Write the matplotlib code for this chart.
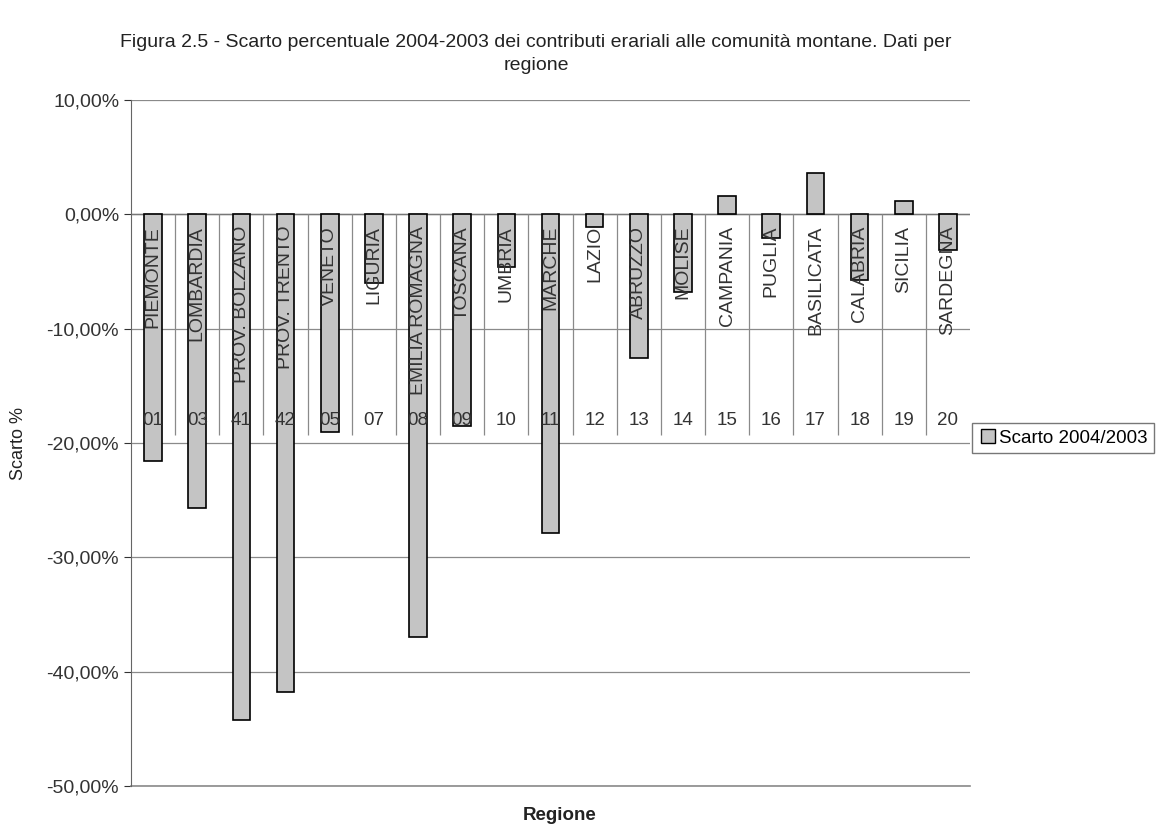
import matplotlib.pyplot as plt
from matplotlib.ticker import FuncFormatter
from matplotlib.lines import Line2D

plt.rcParams['font.family'] = ['Liberation Sans', 'DejaVu Sans']

# === DATA ===
regioni = ["PIEMONTE", "LOMBARDIA", "PROV. BOLZANO", "PROV. TRENTO", "VENETO",
           "LIGURIA", "EMILIA ROMAGNA", "TOSCANA", "UMBRIA", "MARCHE", "LAZIO",
           "ABRUZZO", "MOLISE", "CAMPANIA", "PUGLIA", "BASILICATA", "CALABRIA",
           "SICILIA", "SARDEGNA"]
codici = ["01", "03", "41", "42", "05", "07", "08", "09", "10", "11", "12",
          "13", "14", "15", "16", "17", "18", "19", "20"]
scarto = [-21.6, -25.7, -44.2, -41.8, -19.0, -6.0, -37.0, -18.5, -4.6, -27.9,
          -1.1, -12.6, -6.8, 1.6, -2.1, 3.6, -5.7, 1.2, -3.1]

TITLE = ("Figura 2.5 - Scarto percentuale 2004-2003 dei contributi erariali alle comunità montane. Dati per\n"
         "regione")

# === Plot ===
fig = plt.figure(figsize=(11.6, 8.32), dpi=100)
ax = fig.add_axes([131 / 1160, 1 - 786 / 832, (970 - 131) / 1160, (786 - 100) / 832])

x = list(range(len(regioni)))
ax.bar(x, scarto, width=0.4, color="#c4c4c4", edgecolor="black", linewidth=1.2,
       zorder=3, label="Scarto 2004/2003")

ax.set_xlim(-0.5, len(regioni) - 0.5)
ax.set_ylim(-50, 10)
ax.set_yticks([10, 0, -10, -20, -30, -40, -50])
ax.yaxis.set_major_formatter(FuncFormatter(lambda v, p: f"{v:.2f}%".replace(".", ",")))
ax.tick_params(axis="y", labelsize=14, colors="#333333", length=5, width=0.8)
ax.set_xticks([])
ax.grid(axis="y", color="#8a8a8a", linewidth=0.9, zorder=0)
ax.axhline(0, color="#777777", linewidth=1.0, zorder=2)
ax.axhline(-50, color="#8a8a8a", linewidth=1.2, zorder=2, clip_on=False)

for s in ["top", "right", "bottom"]:
    ax.spines[s].set_visible(False)
ax.spines["left"].set_color("#666666")

# category table at the zero line
ax.vlines([i + 0.5 for i in x[:-1]], -19.3, 0, color="#8a8a8a", linewidth=0.9, zorder=2)
for i, (nome, cod) in enumerate(zip(regioni, codici)):
    ax.text(i, -1.0, nome, rotation=90, ha="center", va="top", fontsize=14,
            color="#333333", zorder=4)
    ax.text(i, -18.0, cod, ha="center", va="center", fontsize=13.5,
            color="#333333", zorder=4)

fig.text(536 / 1160, 1 - 54 / 832, TITLE, ha="center", va="center",
         fontsize=14, color="#222222", linespacing=1.4)
ax.set_ylabel("Scarto %", fontsize=13, color="#222222", labelpad=14)
fig.text(560 / 1160, 1 - 815 / 832, "Regione", ha="center", va="center",
         fontsize=13.5, fontweight="bold", color="#222222")

handle = Line2D([], [], marker="s", linestyle="none", markersize=10,
                markerfacecolor="#c4c4c4", markeredgecolor="black")
fig.legend([handle], ["Scarto 2004/2003"], loc="center left",
           bbox_to_anchor=(972 / 1160, 1 - 438 / 832), fontsize=13.5,
           frameon=True, fancybox=False, edgecolor="#555555",
           handletextpad=0.1, borderpad=0.35, handlelength=1.0,
           borderaxespad=0)

plt.savefig("out.png", dpi=100)
